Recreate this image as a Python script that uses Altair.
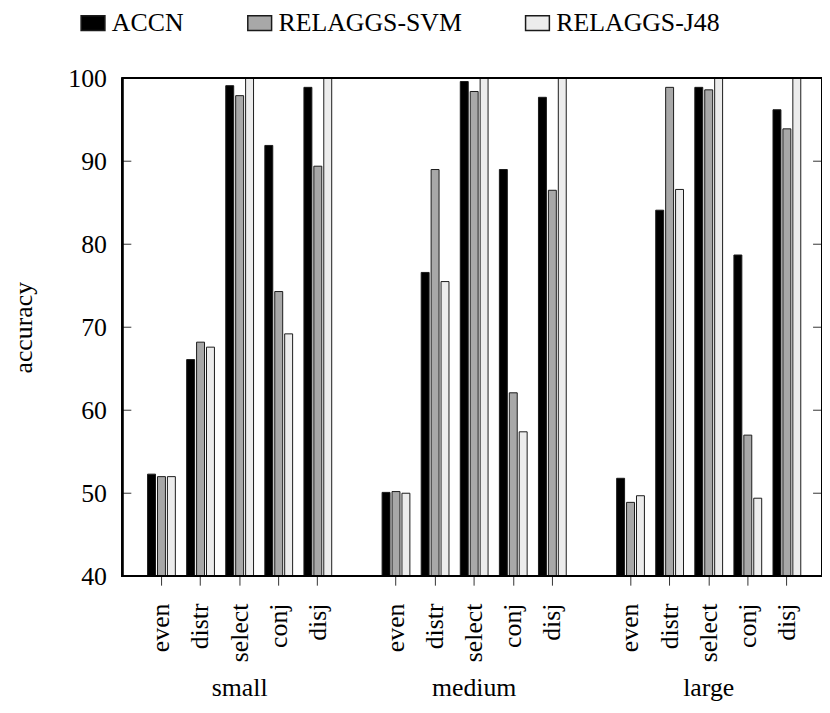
import altair as alt
import pandas as pd

groups = ["small", "medium", "large"]
categories = ["even", "distr", "select", "conj", "disj"]
series = ["ACCN", "RELAGGS-SVM", "RELAGGS-J48"]
accn = [52.3, 66.1, 99.1, 91.9, 98.9, 50.1, 76.6, 99.6, 89.0, 97.7, 51.8, 84.1, 98.9, 78.7, 96.2]
svm = [52.0, 68.2, 97.9, 74.3, 89.4, 50.2, 89.0, 98.4, 62.1, 86.5, 48.9, 98.9, 98.6, 57.0, 93.9]
j48 = [52.0, 67.6, 100.0, 69.2, 100.0, 50.0, 75.5, 100.0, 57.4, 100.0, 49.7, 86.6, 100.0, 49.4, 100.0]
y_ticks = [40, 50, 60, 70, 80, 90, 100]
colors = ["#000000", "#a8a8a8", "#ececec"]

FONT = "Liberation Serif"
W, H = 705.2, 502

# x domain with one spacer slot between groups
domain, real_keys = [], []
for gi, g in enumerate(groups):
    if gi > 0:
        domain.append(f"gap{gi}")
    for c in categories:
        domain.append(f"{g}|{c}")
        real_keys.append(f"{g}|{c}")

rows = []
for s, vals in zip(series, [accn, svm, j48]):
    for k, v in zip(real_keys, vals):
        rows.append({"key": k, "series": s, "value": v})
df = pd.DataFrame(rows)

x_enc = alt.X(
    "key:N",
    sort=domain,
    scale=alt.Scale(domain=domain, paddingInner=0, paddingOuter=0.449, align=0.5565),
    axis=alt.Axis(
        values=real_keys,
        labelExpr="split(datum.value, '|')[1]",
        labelAngle=270, labelAlign="right", labelBaseline="middle",
        labelPadding=18, tickSize=9, tickColor="#333333", tickWidth=1,
        domain=False, grid=False, title=None,
        labelFont=FONT, labelFontSize=26, labelColor="black",
    ),
)
y_enc = alt.Y(
    "value:Q",
    scale=alt.Scale(domain=[40, 100], zero=False, nice=False),
    axis=alt.Axis(
        values=y_ticks, ticks=False, tickSize=0, labelPadding=16,
        domain=False, grid=False, labelFont=FONT, labelFontSize=26, labelColor="black",
        title="accuracy", titleAngle=270, titleX=-92, titleY=251,
        titleBaseline="alphabetic", titleAlign="center", titleFont=FONT,
        titleFontSize=26, titleFontWeight="normal", titleColor="black",
    ),
)

bars = alt.Chart(df).mark_bar(stroke="#1a1a1a", strokeWidth=1).encode(
    x=x_enc,
    xOffset=alt.XOffset("series:N", sort=series,
                        scale=alt.Scale(domain=series, paddingInner=0.2, paddingOuter=0.57)),
    y=y_enc,
    y2=alt.datum(40),
    color=alt.Color(
        "series:N", sort=series,
        scale=alt.Scale(domain=series, range=colors),
        legend=alt.Legend(
            orient="none", legendX=-42.6, legendY=-68.5, direction="horizontal",
            title=None, symbolType="M-1,-0.625H1V0.625H-1Z", symbolSize=576,
            symbolStrokeColor="#1a1a1a", symbolStrokeWidth=1.5, symbolOpacity=1,
            labelFont=FONT, labelFontSize=26, labelColor="black", labelOffset=6,
            columnPadding=61, labelLimit=0, padding=0,
        ),
    ),
)

tick_df = pd.DataFrame({"value": y_ticks})
left_ticks = alt.Chart(tick_df).mark_rule(color="#333333", strokeWidth=1).encode(
    y=y_enc, x=alt.value(0), x2=alt.value(9))
right_ticks = alt.Chart(tick_df).mark_rule(color="#333333", strokeWidth=1).encode(
    y=y_enc, x=alt.value(W - 9), x2=alt.value(W))

frame = alt.Chart(tick_df).mark_rect(
    fillOpacity=0, stroke="black", strokeWidth=1.6
).encode(x=alt.value(0), x2=alt.value(W), y=alt.value(0), y2=alt.value(H))

grp_df = pd.DataFrame({"key": [f"{g}|select" for g in groups], "label": groups})
group_text = alt.Chart(grp_df).mark_text(
    font=FONT, fontSize=26, align="center", baseline="middle", color="black"
).encode(x=x_enc, y=alt.value(615), text="label:N")

chart = alt.layer(bars, left_ticks, right_ticks, frame, group_text).properties(
    width=W, height=H,
    padding={"left": 115.3, "top": 68, "right": 0, "bottom": 125},
    autosize=alt.AutoSizeParams(type="none"),
).configure(font=FONT).configure_view(stroke="black", strokeWidth=1.5)

chart.save("out.html", embed_options={"renderer": "svg", "actions": False})
